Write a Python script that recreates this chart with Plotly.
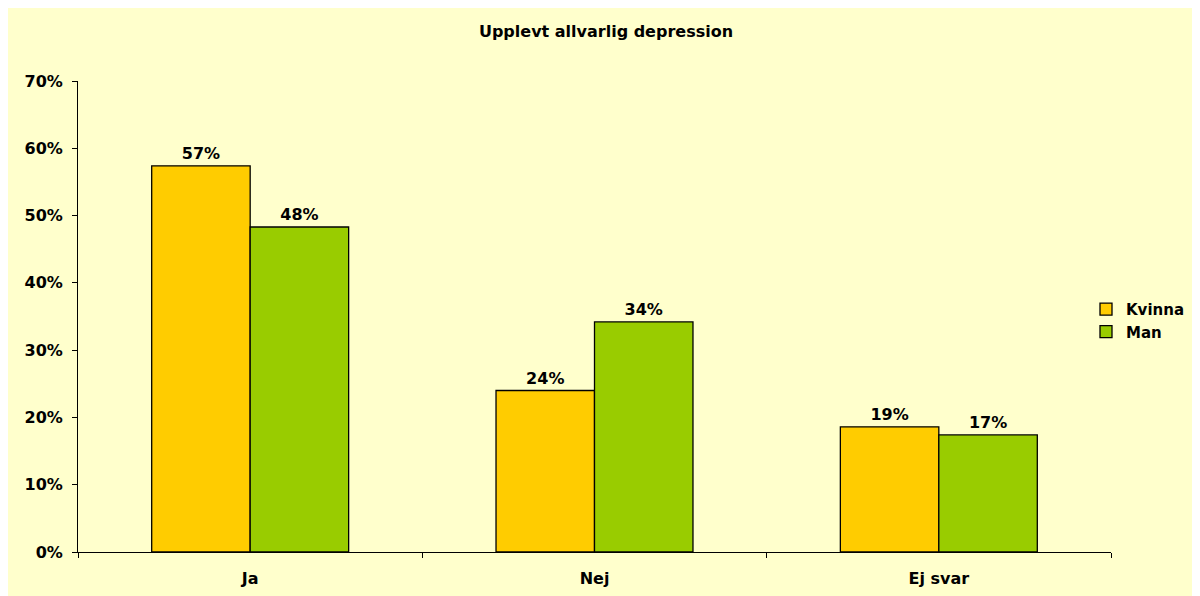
import plotly.graph_objects as go

categories = ["Ja", "Nej", "Ej svar"]
kvinna = [0.574, 0.240, 0.186]
man = [0.483, 0.342, 0.174]
series_names = ["Kvinna", "Man"]
title_text = "Upplevt allvarlig depression"

FONT = "DejaVu Sans"
# the page has an 8px body margin, so the figure is drawn 8px right/down
W, H = 1200, 596
L, T = 70, 73
pw, ph = 1033, 471
R = W - L - pw
B = H - T - ph

label_font = dict(family=FONT, size=16, color="#000000", weight="bold")

fig = go.Figure()
fig.add_trace(go.Bar(
    x=categories, y=kvinna, name=series_names[0],
    marker=dict(color="#FFCC00", line=dict(color="#000000", width=1.3)),
    texttemplate="%{y:.0%}", textposition="outside", cliponaxis=False,
    textfont=label_font,
))
fig.add_trace(go.Bar(
    x=categories, y=man, name=series_names[1],
    marker=dict(color="#99CC00", line=dict(color="#000000", width=1.3)),
    texttemplate="%{y:.0%}", textposition="outside", cliponaxis=False,
    textfont=label_font,
))

fig.update_layout(
    width=W, height=H,
    margin=dict(l=L, r=R, t=T, b=B),
    paper_bgcolor="#FFFFCC",
    plot_bgcolor="#FFFFCC",
    barmode="group", bargap=0.428, bargroupgap=0,
    font=dict(family=FONT, size=16, color="#000000", weight="bold"),
    title=dict(text=title_text, x=598 / W, xanchor="center", y=1 - 23 / H, yanchor="middle",
               font=dict(family=FONT, size=16, color="#000000", weight="bold")),
    legend=dict(x=(1078 - L) / pw, xanchor="left", y=(544.3 - 312.7) / ph, yanchor="middle",
                bgcolor="rgba(0,0,0,0)", font=dict(family=FONT, size=15, weight="bold"),
                tracegroupgap=0),
    showlegend=True,
)
fig.update_yaxes(range=[0, 0.7], dtick=0.1, tickformat=".0%", showgrid=False, zeroline=False,
                 showline=True, linecolor="#000000", linewidth=1, ticks="outside", ticklen=5,
                 tickcolor="#000000", ticklabelstandoff=6)
fig.update_xaxes(showline=True, linecolor="#000000", linewidth=1, ticks="outside", ticklen=5,
                 tickcolor="#000000", tickson="boundaries", showgrid=False, ticklabelstandoff=12)

fig.write_html("out.html")
